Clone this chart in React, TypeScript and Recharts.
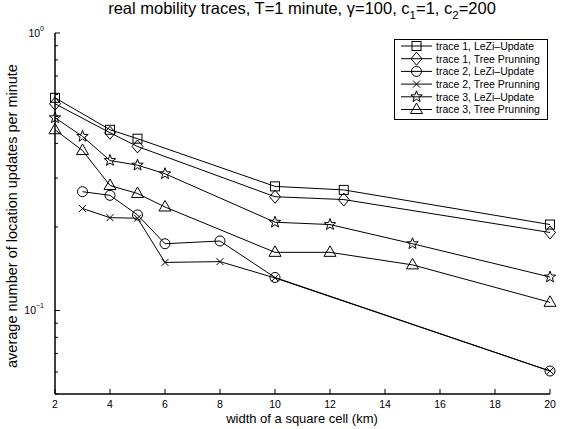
import { Legend, Line, LineChart, XAxis, YAxis } from "recharts"

const cellWidths1 = [2, 4, 5, 10, 12.5, 20]
const trace1LeZi = [0.584, 0.448, 0.416, 0.28, 0.272, 0.204]
const trace1Tree = [0.556, 0.437, 0.39, 0.257, 0.251, 0.191]

const cellWidths2 = [3, 4, 5, 6, 8, 10, 20]
const trace2LeZi = [0.268, 0.26, 0.221, 0.174, 0.178, 0.1315, 0.0605]
const trace2Tree = [0.233, 0.216, 0.215, 0.149, 0.15, 0.131, 0.0605]

const cellWidths3 = [2, 3, 4, 5, 6, 10, 12, 15, 20]
const trace3LeZi = [0.495, 0.424, 0.347, 0.334, 0.311, 0.208, 0.204, 0.174, 0.132]
const trace3Tree = [0.448, 0.377, 0.282, 0.264, 0.236, 0.162, 0.162, 0.146, 0.107]

const xTicks = [2, 4, 6, 8, 10, 12, 14, 16, 18, 20]
const yTicks = [0.05, 0.06, 0.07, 0.08, 0.09, 0.1, 0.2, 0.3, 0.4, 0.5, 0.6, 0.7, 0.8, 0.9, 1]
const yMajor: Record<string, string> = { "0.1": "\u22121", "1": "0" }

type Shape = "square" | "diamond" | "circle" | "x" | "star" | "triangle"

const toPoints = (xs: number[], ys: number[]) => xs.map((x, i) => ({ x, y: ys[i] }))

const series: { key: string; label: string; shape: Shape; data: { x: number; y: number }[] }[] = [
  { key: "t1l", label: "trace 1, LeZi\u2013Update", shape: "square", data: toPoints(cellWidths1, trace1LeZi) },
  { key: "t1t", label: "trace 1, Tree Prunning", shape: "diamond", data: toPoints(cellWidths1, trace1Tree) },
  { key: "t2l", label: "trace 2, LeZi\u2013Update", shape: "circle", data: toPoints(cellWidths2, trace2LeZi) },
  { key: "t2t", label: "trace 2, Tree Prunning", shape: "x", data: toPoints(cellWidths2, trace2Tree) },
  { key: "t3l", label: "trace 3, LeZi\u2013Update", shape: "star", data: toPoints(cellWidths3, trace3LeZi) },
  { key: "t3t", label: "trace 3, Tree Prunning", shape: "triangle", data: toPoints(cellWidths3, trace3Tree) },
]

const FONT = "'Liberation Sans', Arial, Helvetica, sans-serif"

function starPoints(cx: number, cy: number, ro: number, ri: number) {
  const pts: string[] = []
  for (let i = 0; i < 10; i++) {
    const r = i % 2 === 0 ? ro : ri
    const a = -Math.PI / 2 + (i * Math.PI) / 5
    pts.push(`${cx + r * Math.cos(a)},${cy + r * Math.sin(a)}`)
  }
  return pts.join(" ")
}

function Marker({ shape, cx, cy }: { shape: Shape; cx: number; cy: number }) {
  const s = { fill: "none", stroke: "#000", strokeWidth: 1 }
  switch (shape) {
    case "square":
      return <rect x={cx - 4.5} y={cy - 4.5} width={9} height={9} {...s} />
    case "diamond":
      return <polygon points={`${cx},${cy - 6.5} ${cx + 5.5},${cy} ${cx},${cy + 6.5} ${cx - 5.5},${cy}`} {...s} />
    case "circle":
      return <circle cx={cx} cy={cy} r={5} {...s} />
    case "x":
      return (
        <g {...s}>
          <line x1={cx - 3.5} y1={cy - 3.5} x2={cx + 3.5} y2={cy + 3.5} />
          <line x1={cx - 3.5} y1={cy + 3.5} x2={cx + 3.5} y2={cy - 3.5} />
        </g>
      )
    case "star":
      return <polygon points={starPoints(cx, cy, 6, 2.5)} {...s} />
    case "triangle":
      return <polygon points={`${cx},${cy - 6.5} ${cx + 6},${cy + 4} ${cx - 6},${cy + 4}`} {...s} />
  }
}

function BottomTick({ x, y, payload }: any) {
  return (
    <g>
      <line x1={x} y1={y} x2={x} y2={y - 5} stroke="#000" />
      <text x={x} y={y + 14} textAnchor="middle" fontSize={10.5} fontFamily={FONT} fill="#000">
        {payload.value}
      </text>
    </g>
  )
}

function TopTick({ x, y }: any) {
  return <line x1={x} y1={y} x2={x} y2={y + 5} stroke="#000" />
}

function LeftTick({ x, y, payload }: any) {
  const exp = yMajor[String(payload.value)]
  return (
    <g>
      <line x1={x} y1={y} x2={x + (exp ? 5 : 3)} y2={y} stroke="#000" />
      {exp && (
        <text x={x - 11} y={y + 4} textAnchor="end" fontSize={10.5} fontFamily={FONT} fill="#000">
          10
          <tspan dy={-6} fontSize={7}>
            {exp}
          </tspan>
        </text>
      )}
    </g>
  )
}

function RightTick({ x, y, payload }: any) {
  const major = yMajor[String(payload.value)]
  return <line x1={x} y1={y} x2={x - (major ? 5 : 3)} y2={y} stroke="#000" />
}

function LegendBox() {
  return (
    <svg width={154} height={81} style={{ display: "block" }}>
      <rect x={0.5} y={0.5} width={153} height={80} fill="#fff" stroke="#000" strokeWidth={1} />
      {series.map((s, i) => {
        const cy = 7 + i * 12.7
        return (
          <g key={s.key}>
            <line x1={7} y1={cy} x2={38} y2={cy} stroke="#000" />
            <Marker shape={s.shape} cx={22.5} cy={cy} />
            <text x={42} y={cy + 3.8} fontSize={10.5} fontFamily={FONT} fill="#000">
              {s.label}
            </text>
          </g>
        )
      })}
    </svg>
  )
}

export default function App() {
  return (
    <div style={{ position: "absolute", left: 0, top: 0, width: 567, height: 429, background: "#fff", fontFamily: FONT }}>
      <LineChart width={567} height={429} margin={{ top: 33, right: 17, bottom: 0, left: 0 }}>
        <XAxis
          xAxisId="bottom"
          type="number"
          dataKey="x"
          domain={[2, 20]}
          ticks={xTicks}
          height={35}
          tickSize={0}
          tickMargin={0}
          tickLine={false}
          axisLine={{ stroke: "#000", strokeWidth: 1.5 }}
          tick={<BottomTick />}
          allowDuplicatedCategory={false}
        />
        <XAxis
          xAxisId="top"
          orientation="top"
          type="number"
          dataKey="x"
          domain={[2, 20]}
          ticks={xTicks}
          height={0}
          tickSize={0}
          tickMargin={0}
          tickLine={false}
          axisLine={{ stroke: "#000", strokeWidth: 1.5 }}
          tick={<TopTick />}
        />
        <YAxis
          yAxisId="left"
          type="number"
          scale="log"
          domain={[0.05, 1]}
          allowDataOverflow
          ticks={yTicks}
          width={55}
          tickSize={0}
          tickMargin={0}
          tickLine={false}
          axisLine={{ stroke: "#000", strokeWidth: 1.5 }}
          tick={<LeftTick />}
          interval={0}
        />
        <YAxis
          yAxisId="right"
          orientation="right"
          type="number"
          scale="log"
          domain={[0.05, 1]}
          allowDataOverflow
          ticks={yTicks}
          width={0}
          tickSize={0}
          tickMargin={0}
          tickLine={false}
          axisLine={{ stroke: "#000", strokeWidth: 1.5 }}
          tick={<RightTick />}
          interval={0}
        />
        <Legend
          layout="vertical"
          align="center"
          verticalAlign="middle"
          wrapperStyle={{ left: 394, top: 39, width: 154, height: 81 }}
          content={() => <LegendBox />}
        />
        {series.map((s) => (
          <Line
            key={s.key}
            xAxisId="bottom"
            yAxisId="left"
            data={s.data}
            dataKey="y"
            name={s.label}
            stroke="#000"
            strokeWidth={1}
            isAnimationActive={false}
            dot={(p: any) => <Marker key={`${s.key}-${p.index}`} shape={s.shape} cx={p.cx} cy={p.cy} />}
          />
        ))}
      </LineChart>
      <div
        style={{
          position: "absolute",
          left: 302,
          top: 12,
          transform: "translate(-50%, -50%)",
          whiteSpace: "nowrap",
          fontSize: 16.5,
          lineHeight: "19px",
        }}
      >
        real mobility traces, T=1 minute, {"\u03b3"}=100, c<sub style={{ fontSize: 11.5 }}>1</sub>=1, c
        <sub style={{ fontSize: 11.5 }}>2</sub>=200
      </div>
      <div
        style={{
          position: "absolute",
          left: 302,
          top: 419,
          transform: "translate(-50%, -50%)",
          whiteSpace: "nowrap",
          fontSize: 13,
          lineHeight: "16px",
        }}
      >
        width of a square cell (km)
      </div>
      <div
        style={{
          position: "absolute",
          left: 12,
          top: 216,
          transform: "translate(-50%, -50%) rotate(-90deg)",
          whiteSpace: "nowrap",
          fontSize: 14.5,
          lineHeight: "16px",
        }}
      >
        average number of location updates per minute
      </div>
    </div>
  )
}
